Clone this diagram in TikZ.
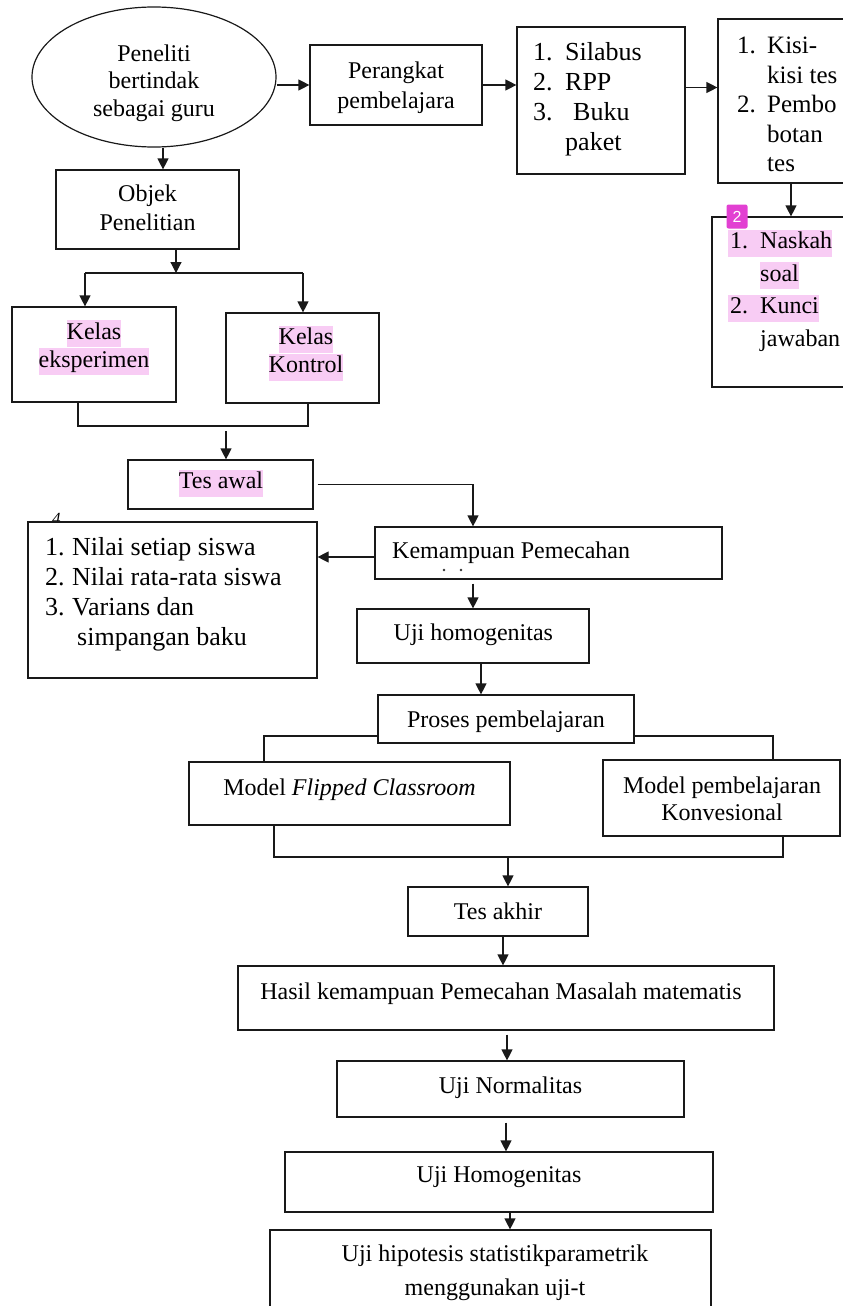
\documentclass[tikz,border=0pt]{standalone}
\usepackage{fontspec}
\setmainfont{Liberation Serif}
\newfontfamily\badgefont{Liberation Sans}
\usepackage{tikz}
\usetikzlibrary{arrows.meta,shapes.geometric}
\definecolor{hilite}{RGB}{248,204,244}
\definecolor{badge}{RGB}{226,64,210}
\newcommand{\teks}{\fontsize{24}{27.6}\selectfont}
\newcommand{\nomor}[2]{\makebox[#1pt][l]{#2}}
\newcommand{\hl}[1]{{\setlength{\fboxsep}{0pt}\colorbox{hilite}{\rule[-8pt]{0pt}{27pt}#1}}}

\begin{document}
\begin{tikzpicture}[x=1pt,y=-1pt,
  kotak/.style={draw=black!90,line width=1.2pt,inner sep=0,fill=white},
  tulisan/.style={font=\teks,align=center,inner sep=0},
  daftar/.style={align=left,inner sep=0,anchor=north west},
  panah/.style={-{Triangle[length=11pt,width=11pt]},line width=1.2pt,draw=black!90},
  garis/.style={line width=1.2pt,draw=black!90}]
  \useasboundingbox (0,0) rectangle (843,1306);
  \clip (0,0) rectangle (843,1306);

  % kotak-kotak
  \node[kotak,ellipse,minimum width=244,minimum height=140] (peneliti) at (154,77) {};
  \node[kotak,minimum width=172,minimum height=80] (perangkat) at (396,85) {};
  \node[kotak,minimum width=168,minimum height=147] (silabus) at (601,100.5) {};
  \node[kotak,minimum width=152,minimum height=164] (kisi) at (794,101) {};
  \node[kotak,minimum width=158,minimum height=170] (naskah) at (791,302) {};
  \node[kotak,minimum width=183,minimum height=79] (objek) at (147.5,209.5) {};
  \node[kotak,minimum width=164,minimum height=95] (eksperimen) at (94,354.5) {};
  \node[kotak,minimum width=153,minimum height=90] (kontrol) at (302.5,358) {};
  \node[kotak,minimum width=185,minimum height=49] (tesawal) at (220.5,484.5) {};
  \node[inner sep=0,anchor=base west,font=\fontsize{17}{17}\selectfont\itshape] (angka) at (52,524) {4};
  \node[kotak,minimum width=289,minimum height=156] (nilai) at (172.5,600) {};
  \node[kotak,minimum width=347,minimum height=52] (kemampuan) at (548.5,553) {};
  \node[kotak,minimum width=232,minimum height=54] (ujihomo) at (473,636) {};
  \node[kotak,minimum width=256,minimum height=48] (proses) at (506,719) {};
  \node[kotak,minimum width=321,minimum height=63] (flipped) at (349.5,793.5) {};
  \node[kotak,minimum width=237,minimum height=76] (konvensional) at (721.5,798) {};
  \node[kotak,minimum width=180,minimum height=49] (tesakhir) at (498,911.5) {};
  \node[kotak,minimum width=536,minimum height=64] (hasil) at (506,998) {};
  \node[kotak,minimum width=347,minimum height=56] (normalitas) at (510.5,1089) {};
  \node[kotak,minimum width=428,minimum height=60] (homogenitas) at (499,1182) {};
  \node[kotak,minimum width=441,minimum height=100] (hipotesis) at (490.5,1280) {};

  % tulisan
  \node[tulisan] (peneliti-t) at (154,83) {Peneliti\\bertindak\\sebagai guru};
  \node[tulisan,font=\fontsize{24}{30}\selectfont] (perangkat-t) at (396,87.5) {Perangkat\\pembelajara};
  \node[daftar,font=\fontsize{26}{30}\selectfont] (silabus-t) at (533,39.6)
    {\strut\nomor{32}{1.}Silabus\\ \strut\nomor{32}{2.}RPP\\ \strut\nomor{32}{3.}\hspace*{8pt}Buku\\ \strut\hspace*{32pt}paket};
  \node[daftar,font=\fontsize{25}{29.5}\selectfont] (kisi-t) at (737,33)
    {\strut\nomor{30}{1.}Kisi-\\ \strut\hspace*{30pt}kisi tes\\ \strut\nomor{30}{2.}Pembo\\ \strut\hspace*{30pt}botan\\ \strut\hspace*{30pt}tes};
  \node[daftar,font=\fontsize{24}{32.5}\selectfont] (naskah-t) at (728,229.6)
    {\hl{\hspace*{2pt}\nomor{30}{1.}Naskah}\\ \hspace*{32pt}\hl{soal}\\ \hl{\hspace*{2pt}\nomor{30}{2.}Kunci}\\ \hspace*{32pt}jawaban};
  \node[tulisan,font=\fontsize{24}{29}\selectfont] (objek-t) at (147.5,207.5) {Objek\\Penelitian};
  \node[tulisan,font=\fontsize{24}{28}\selectfont] (eksperimen-t) at (94,347.5) {\hl{Kelas}\\\hl{eksperimen}};
  \node[tulisan,font=\fontsize{24}{28}\selectfont] (kontrol-t) at (306,353) {\hl{Kelas}\\\hl{Kontrol}};
  \node[tulisan] (tesawal-t) at (221,483) {\hl{Tes awal}};
  \node[daftar,font=\fontsize{26}{30}\selectfont] (nilai-t) at (45,534.6)
    {\strut\nomor{27}{1.}Nilai setiap siswa\\ \strut\nomor{27}{2.}Nilai rata-rata siswa\\ \strut\nomor{27}{3.}Varians dan\\ \strut\hspace*{32pt}simpangan baku};
  \node[tulisan,anchor=west] (kemampuan-t) at (392,552.5) {Kemampuan Pemecahan};
  \fill[black!80] (444,570) circle (1.3pt) (461,570) circle (1.3pt);
  \node[tulisan,anchor=west] (ujihomo-t) at (393.5,634.5) {Uji homogenitas};
  \node[tulisan] (proses-t) at (506,721.5) {Proses pembelajaran};
  \node[tulisan] (flipped-t) at (349.5,789.5) {Model \textit{Flipped Classroom}};
  \node[tulisan,font=\fontsize{24}{27}\selectfont] (konvensional-t) at (722,798.5) {Model pembelajaran\\Konvesional};
  \node[tulisan] (tesakhir-t) at (498,911) {Tes akhir};
  \node[tulisan] (hasil-t) at (501,993.5) {Hasil kemampuan Pemecahan Masalah matematis};
  \node[tulisan] (normalitas-t) at (510.5,1087.5) {Uji Normalitas};
  \node[tulisan] (homogenitas-t) at (499,1177.5) {Uji Homogenitas};
  \node[tulisan,font=\fontsize{24}{34}\selectfont] (hipotesis-t) at (495,1272.5) {Uji hipotesis statistikparametrik\\menggunakan uji-t};

  % panah
  \draw[panah] (peneliti.east |- perangkat.west) -- (perangkat.west);
  \draw[panah] (perangkat.east) -- (perangkat.east -| silabus.west);
  \draw[panah] ([yshift=13]silabus.east) -- ([yshift=13]silabus.east -| kisi.west);
  \draw[panah] (naskah.north |- kisi.south) -- (naskah.north);
  \draw[panah] ([xshift=9]peneliti.south) -- ([xshift=9]peneliti.south |- objek.north);
  \coordinate (cabang) at (176,273);
  \coordinate (cabangkiri) at (85,273);
  \coordinate (cabangkanan) at (303,273);
  \draw[panah] (objek.south -| cabang) -- (cabang);
  \draw[garis] (cabangkiri) -- (cabangkanan);
  \draw[panah] (cabangkiri) -- (cabangkiri |- eksperimen.north);
  \draw[panah] (cabangkanan) -- (cabangkanan |- kontrol.north);
  \coordinate (gabungkiri) at (78,426);
  \coordinate (gabungkanan) at (308,426);
  \draw[garis] (gabungkiri |- eksperimen.south) -- (gabungkiri) -- (gabungkanan) -- (gabungkanan |- kontrol.south);
  \coordinate (turun) at (226,431);
  \draw[panah] (turun) -- (turun |- tesawal.north);
  \draw[panah] ([xshift=4]tesawal.east) -| ([xshift=-75.5]kemampuan.north);
  \draw[panah] ([yshift=-4]kemampuan.west) -- ([yshift=-4]kemampuan.west -| nilai.east);
  \draw[panah] ([yshift=-4]kemampuan.south -| ujihomo.north) -- (ujihomo.north);
  \draw[panah] ([xshift=8]ujihomo.south) -- ([xshift=8]ujihomo.south |- proses.north);
  \draw[garis] ([yshift=-17]proses.west) -| ([xshift=-85.5]flipped.north);
  \draw[garis] ([yshift=-17]proses.east) -| ([xshift=51.5]konvensional.north);
  \coordinate (satukiri) at (274,857);
  \coordinate (satukanan) at (783,857);
  \draw[garis] (satukiri |- flipped.south) -- (satukiri) -- (satukanan) -- (satukanan |- konvensional.south);
  \coordinate (turun2) at (508,857);
  \draw[panah] (turun2) -- (turun2 |- tesakhir.north);
  \draw[panah] ([xshift=5]tesakhir.south) -- ([xshift=5]tesakhir.south |- hasil.north);
  \draw[panah] ([xshift=1,yshift=-4]hasil.south) -- ([xshift=1]hasil.south |- normalitas.north);
  \draw[panah] ([xshift=-4.5,yshift=-5]normalitas.south) -- ([xshift=-4.5]normalitas.south |- homogenitas.north);
  \draw[panah] ([xshift=11]homogenitas.south) -- ([xshift=11]homogenitas.south |- hipotesis.north);

  \node[fill=badge,rounded corners=2pt,text=white,inner sep=0,minimum width=21,minimum height=24,
    font=\badgefont\fontsize{16}{16}\selectfont] (tanda) at (737,216.5) {2};
\end{tikzpicture}
\end{document}
